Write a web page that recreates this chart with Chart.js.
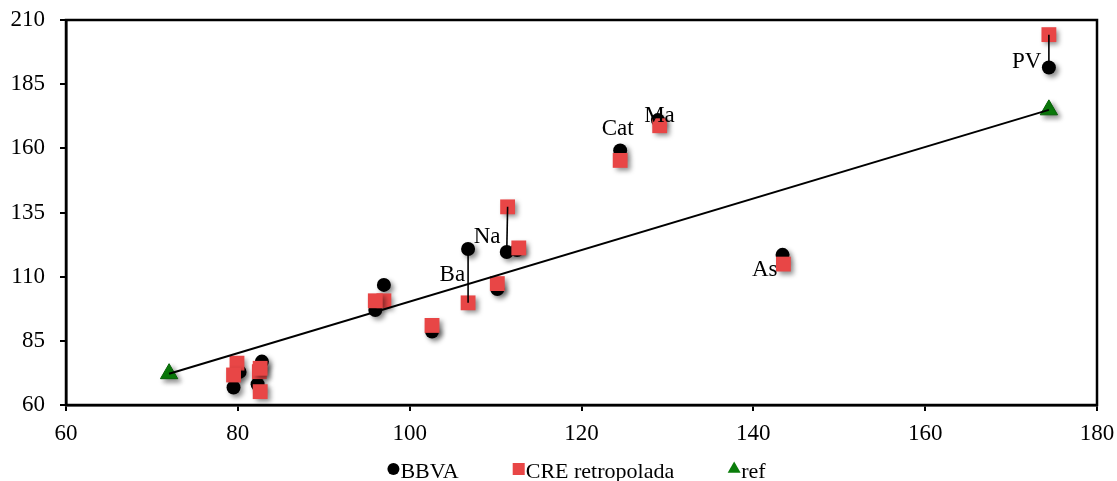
<!DOCTYPE html>
<html><head><meta charset="utf-8">
<script src="https://cdn.jsdelivr.net/npm/chart.js@4.4.1/dist/chart.umd.min.js"></script>
<style>html,body{margin:0;padding:0;background:#fff}#wrap{width:1117px;height:481px;position:relative}</style>
</head><body><div id="wrap"><canvas id="c"></canvas></div>
<script>
// ---- data ----
const seriesNames = ['BBVA', 'CRE retropolada', 'ref'];
const bbvaX = [174.4, 128.9, 124.5, 143.4, 111.3, 106.8, 112.5, 110.2, 102.6, 97.0, 96.0, 80.2, 79.5, 82.8, 82.3];
const bbvaY = [191.5, 171.0, 159.2, 118.5, 119.6, 120.8, 120.4, 105.2, 88.6, 106.8, 97.0, 72.9, 66.8, 76.9, 68.1];
const creX  = [174.4, 129.1, 124.5, 143.5, 111.4, 106.8, 112.7, 110.2, 102.6, 97.0, 96.0, 79.9, 79.5, 82.5, 82.6, 82.6];
const creY  = [204.3, 168.8, 155.3, 114.9, 137.2, 99.8, 121.2, 107.3, 91.0, 100.6, 100.6, 76.3, 71.7, 73.0, 65.2, 74.3];
const refX = [72.0, 174.4];
const refY = [72.2, 175.0];
const pointLabels = ['PV', 'Ma', 'Cat', 'As', 'Na', 'Ba'];
const linkedIdx = [0, 4, 5];
const xTicks = [60, 80, 100, 120, 140, 160, 180];
const yTicks = [60, 85, 110, 135, 160, 185, 210];

// ---- style ----
const FONT = '"Liberation Serif", "Times New Roman", serif';
const RED = '#E84646';
const GREEN = '#0A7D0A';
const labelStyle = [ // anchor offsets for annotation text
  {dx: -7.5, dy: 0.6, align: 'right'},
  {dx: 1.5, dy: 2.3, align: 'center'},
  {dx: -2.5, dy: -15.5, align: 'center'},
  {dx: -5, dy: 21, align: 'right'},
  {dx: -6.3, dy: -8.7, align: 'right'},
  {dx: -3, dy: 31.7, align: 'right'}
];

const pts = (xs, ys) => xs.map((x, i) => ({x, y: ys[i]}));

const datasets = [];
datasets.push({type: 'line', label: '_trend', data: pts(refX, refY), borderColor: '#000', borderWidth: 2,
  pointRadius: 0, showLine: true, fill: false, order: 0, inLegend: false});
linkedIdx.forEach(i => datasets.push({type: 'line', label: '_link' + i,
  data: [{x: creX[i], y: creY[i]}, {x: bbvaX[i], y: bbvaY[i]}],
  borderColor: '#000', borderWidth: 1.6, pointRadius: 0, showLine: true, fill: false, order: 0, inLegend: false}));
datasets.push({label: seriesNames[2], data: pts(refX, refY), pointStyle: 'triangle', pointRadius: 10,
  backgroundColor: GREEN, borderColor: '#066006', borderWidth: 1, order: 1, shadow: true, inLegend: true, legendRadius: 7.5});
datasets.push({label: seriesNames[1], data: pts(creX, creY), pointStyle: 'rect', pointRadius: 10.5,
  backgroundColor: RED, borderColor: RED, borderWidth: 0, order: 2, shadow: true, inLegend: true, legendRadius: 8.5});
datasets.push({label: seriesNames[0], data: pts(bbvaX, bbvaY), pointStyle: 'circle', pointRadius: 7,
  backgroundColor: '#000', borderColor: '#000', borderWidth: 0, order: 3, shadow: true, inLegend: true, legendRadius: 6});

const shadowPlugin = {
  id: 'shadow',
  beforeDatasetDraw(chart, args) {
    const ds = chart.data.datasets[args.index];
    chart.ctx.save();
    if (ds.shadow) {
      chart.ctx.shadowColor = 'rgba(0,0,0,0.45)';
      chart.ctx.shadowBlur = 5;
      chart.ctx.shadowOffsetX = 3;
      chart.ctx.shadowOffsetY = 3;
    }
  },
  afterDatasetDraw(chart) { chart.ctx.restore(); }
};

const framePlugin = {
  id: 'frame',
  beforeDatasetsDraw(chart) {
    const {ctx, chartArea: a} = chart;
    ctx.save();
    ctx.strokeStyle = '#000';
    ctx.lineWidth = 2.5;
    ctx.strokeRect(a.left, a.top, a.right - a.left, a.bottom - a.top);
    ctx.restore();
  }
};

const labelPlugin = {
  id: 'ptLabels',
  afterDatasetsDraw(chart) {
    const {ctx, scales: {x, y}} = chart;
    ctx.save();
    ctx.font = '23px ' + FONT;
    ctx.fillStyle = '#000';
    ctx.textBaseline = 'alphabetic';
    pointLabels.forEach((t, i) => {
      const s = labelStyle[i];
      ctx.textAlign = s.align;
      ctx.fillText(t, x.getPixelForValue(bbvaX[i]) + s.dx, y.getPixelForValue(bbvaY[i]) + s.dy);
    });
    ctx.restore();
  }
};

const legendPlugin = {
  id: 'customLegend',
  afterDraw(chart) {
    const {ctx, chartArea: a} = chart;
    const items = [...chart.data.datasets].filter(d => d.inLegend).sort((p, q) => seriesNames.indexOf(p.label) - seriesNames.indexOf(q.label));
    ctx.save();
    ctx.font = '22px ' + FONT;
    const gapMarker = 7, gapItem = 48, markerHalf = 6;
    const widths = items.map(d => markerHalf + gapMarker + ctx.measureText(d.label).width);
    const total = widths.reduce((s, w) => s + w, 0) + gapItem * (items.length - 1) + markerHalf;
    let xPos = (a.left + a.right) / 2 - total / 2 - 8;
    const yMid = 469;
    items.forEach((d, i) => {
      const cx = xPos + markerHalf;
      ctx.fillStyle = d.backgroundColor;
      ctx.strokeStyle = d.borderColor;
      Chart.helpers.drawPoint(ctx, {pointStyle: d.pointStyle, radius: d.legendRadius, rotation: 0, borderWidth: 0}, cx, yMid);
      ctx.fillStyle = '#000';
      ctx.textAlign = 'left';
      ctx.textBaseline = 'alphabetic';
      ctx.fillText(d.label, cx + gapMarker, 478);
      xPos += widths[i] + markerHalf + gapItem;
    });
    ctx.restore();
  }
};

const noOverflow = s => { s.paddingTop = 0; s.paddingBottom = 0; s.paddingLeft = 0; s.paddingRight = 0; };

new Chart(document.getElementById('c'), {
  type: 'scatter',
  data: {datasets},
  plugins: [shadowPlugin, framePlugin, labelPlugin, legendPlugin],
  options: {
    responsive: true,
    maintainAspectRatio: false,
    animation: false,
    layout: {padding: {left: 0, right: 20, top: 20, bottom: 36}},
    plugins: {legend: {display: false}, tooltip: {enabled: false}},
    scales: {
      x: {
        type: 'linear', min: xTicks[0], max: xTicks[xTicks.length - 1],
        afterBuildTicks: s => { s.ticks = xTicks.map(v => ({value: v})); },
        afterFit: s => { s.height = 40; noOverflow(s); },
        grid: {display: true, drawOnChartArea: false, drawTicks: true, tickLength: 6, color: '#000', lineWidth: 2},
        border: {display: true, color: '#000', width: 2.5},
        ticks: {color: '#000', font: {family: FONT, size: 23}, padding: 9, maxRotation: 0}
      },
      y: {
        type: 'linear', min: yTicks[0], max: yTicks[yTicks.length - 1],
        afterBuildTicks: s => { s.ticks = yTicks.map(v => ({value: v})); },
        afterFit: s => { s.width = 66; noOverflow(s); },
        grid: {display: true, drawOnChartArea: false, drawTicks: true, tickLength: 6, color: '#000', lineWidth: 2},
        border: {display: true, color: '#000', width: 2.5},
        ticks: {color: '#000', font: {family: FONT, size: 23}, padding: 15}
      }
    }
  }
});
</script></body></html>
